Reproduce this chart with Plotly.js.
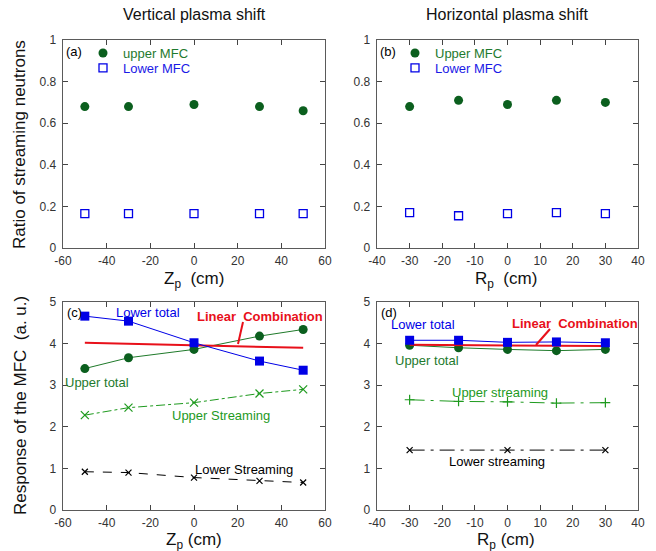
<!DOCTYPE html>
<html>
<head>
<meta charset="utf-8">
<script src="https://cdn.plot.ly/plotly-3.0.1.min.js"></script>
<style>html,body{margin:0;padding:0;background:#fff;}#chart{width:656px;height:551px;}</style>
</head>
<body>
<div id="chart"></div>
<script>
// ---- data ----
var zShift = [-50, -30, 0, 30, 50];
var ratioUpperA = [0.68, 0.68, 0.69, 0.68, 0.66];
var ratioLowerA = [0.165, 0.165, 0.165, 0.165, 0.165];

var rShift = [-30, -15, 0, 15, 30];
var ratioUpperB = [0.68, 0.71, 0.69, 0.71, 0.70];
var ratioLowerB = [0.17, 0.155, 0.165, 0.17, 0.165];

var lowerTotalC = [4.66, 4.54, 4.02, 3.58, 3.36];
var upperTotalC = [3.40, 3.66, 3.86, 4.18, 4.34];
var linCombCx = [-50, 50];
var linCombC = [4.02, 3.90];
var upperStreamC = [2.28, 2.46, 2.58, 2.80, 2.90];
var lowerStreamC = [0.92, 0.90, 0.78, 0.70, 0.66];

var lowerTotalD = [4.08, 4.08, 4.03, 4.04, 4.02];
var upperTotalD = [3.96, 3.90, 3.86, 3.83, 3.86];
var linCombDx = [-30, 30];
var linCombD = [3.97, 3.94];
var upperStreamD = [2.65, 2.61, 2.60, 2.57, 2.58];
var lowerStreamDx = [-30, 0, 30];
var lowerStreamD = [1.44, 1.44, 1.44];

// tick labels
var zTickVals = [-60, -40, -20, 0, 20, 40, 60];
var zTickText = ['-60', '-40', '-20', '0', '20', '40', '60'];
var rTickVals = [-40, -30, -20, -10, 0, 10, 20, 30, 40];
var rTickText = ['-40', '-30', '-20', '-10', '0', '10', '20', '30', '40'];
var ratioTickVals = [0, 0.2, 0.4, 0.6, 0.8, 1];
var ratioTickText = ['0', '0.2', '0.4', '0.6', '0.8', '1'];
var respTickVals = [0, 1, 2, 3, 4, 5];
var respTickText = ['0', '1', '2', '3', '4', '5'];

// ---- styling helpers ----
var W = 656, H = 551;
function px(x) { return x / W; }
function py(y) { return 1 - y / H; }
var FONT = 'Liberation Sans, Arial, Helvetica, sans-serif';
var GREEN_DARK = '#0b5f1e';
var GREEN = '#1e9a1e';
var BLUE = '#0000e6';
var RED = '#e8101a';

var traces = [
  // (a)
  {x: zShift, y: ratioUpperA, xaxis: 'x', yaxis: 'y', mode: 'markers', name: '<span style="color:#1e7a2e">upper MFC</span>',
   marker: {symbol: 'circle', size: 9, color: GREEN_DARK}, legend: 'legend'},
  {x: zShift, y: ratioLowerA, xaxis: 'x', yaxis: 'y', mode: 'markers', name: '<span style="color:#1a1ae6">Lower MFC</span>',
   marker: {symbol: 'square-open', size: 8, color: BLUE, line: {width: 1.3}}, legend: 'legend2'},
  // (b)
  {x: rShift, y: ratioUpperB, xaxis: 'x2', yaxis: 'y2', mode: 'markers', name: '<span style="color:#1e7a2e">Upper MFC</span>',
   marker: {symbol: 'circle', size: 9, color: GREEN_DARK}, legend: 'legend3'},
  {x: rShift, y: ratioLowerB, xaxis: 'x2', yaxis: 'y2', mode: 'markers', name: '<span style="color:#1a1ae6">Lower MFC</span>',
   marker: {symbol: 'square-open', size: 8, color: BLUE, line: {width: 1.3}}, legend: 'legend4'},
  // (c)
  {x: zShift, y: lowerStreamC, xaxis: 'x3', yaxis: 'y3', mode: 'lines+markers', showlegend: false,
   line: {color: '#000', width: 1, dash: 'dash'}, marker: {symbol: 'x-thin-open', size: 6, color: '#000', line: {width: 1.2, color: '#000'}}},
  {x: zShift, y: upperStreamC, xaxis: 'x3', yaxis: 'y3', mode: 'lines+markers', showlegend: false,
   line: {color: GREEN, width: 1, dash: 'dashdot'}, marker: {symbol: 'x-thin-open', size: 8, color: GREEN, line: {width: 1.2, color: GREEN}}},
  {x: zShift, y: upperTotalC, xaxis: 'x3', yaxis: 'y3', mode: 'lines+markers', showlegend: false,
   line: {color: '#1f7a2a', width: 1}, marker: {symbol: 'circle', size: 9, color: GREEN_DARK}},
  {x: linCombCx, y: linCombC, xaxis: 'x3', yaxis: 'y3', mode: 'lines', showlegend: false,
   line: {color: RED, width: 2}},
  {x: zShift, y: lowerTotalC, xaxis: 'x3', yaxis: 'y3', mode: 'lines+markers', showlegend: false,
   line: {color: BLUE, width: 1}, marker: {symbol: 'square', size: 9, color: BLUE}},
  // (d)
  {x: lowerStreamDx, y: lowerStreamD, xaxis: 'x4', yaxis: 'y4', mode: 'lines+markers', showlegend: false,
   line: {color: '#000', width: 1, dash: 'longdashdot'}, marker: {symbol: 'x-thin-open', size: 6, color: '#000', line: {width: 1.2, color: '#000'}}},
  {x: rShift, y: upperStreamD, xaxis: 'x4', yaxis: 'y4', mode: 'lines+markers', showlegend: false,
   line: {color: GREEN, width: 1, dash: 'longdashdot'}, marker: {symbol: 'cross-thin-open', size: 7, color: GREEN, line: {width: 1.2, color: GREEN}}},
  {x: rShift, y: upperTotalD, xaxis: 'x4', yaxis: 'y4', mode: 'lines+markers', showlegend: false,
   line: {color: '#1f7a2a', width: 1}, marker: {symbol: 'circle', size: 9, color: GREEN_DARK}},
  {x: linCombDx, y: linCombD, xaxis: 'x4', yaxis: 'y4', mode: 'lines', showlegend: false,
   line: {color: RED, width: 2}},
  {x: rShift, y: lowerTotalD, xaxis: 'x4', yaxis: 'y4', mode: 'lines+markers', showlegend: false,
   line: {color: BLUE, width: 1}, marker: {symbol: 'square', size: 9, color: BLUE}}
];

function axis(domain, range, vals, text, anchor, standoff) {
  return {
    domain: domain, range: range, tickmode: 'array', tickvals: vals, ticktext: text, anchor: anchor,
    showline: true, linecolor: '#5a5a5a', linewidth: 1.3, mirror: 'ticks',
    ticks: 'inside', ticklen: 5, tickwidth: 1, tickcolor: '#444',
    showgrid: false, zeroline: false, fixedrange: true, ticklabelstandoff: standoff,
    tickfont: {family: FONT, size: 12, color: '#333'}
  };
}

var xa = [px(63), px(325)], xb = [px(377), px(638)];
var yTop = [py(248), py(40)], yBot = [py(510), py(302)];

function legendAt(x, y) {
  return {x: px(x), y: py(y), xanchor: 'left', yanchor: 'middle', bgcolor: 'rgba(0,0,0,0)',
          borderwidth: 0, font: {family: FONT, size: 13}};
}

function ann(text, x, y, opts) {
  var a = {text: text, xref: 'paper', yref: 'paper', x: px(x), y: py(y), showarrow: false,
           xanchor: 'center', yanchor: 'middle', font: {family: FONT, size: 13, color: '#000'}};
  for (var k in (opts || {})) a[k] = opts[k];
  return a;
}

var TF = {family: FONT, size: 17, color: '#111'};
var annotations = [
  ann('Vertical plasma shift', 194, 14, {font: {family: FONT, size: 16, color: '#111'}}),
  ann('Horizontal plasma shift', 507, 14, {font: {family: FONT, size: 16, color: '#111'}}),
  ann('Ratio of streaming neutrons', 20, 145, {textangle: -90, font: TF}),
  ann('Response of the MFC  (a. u.)', 20, 406, {textangle: -90, font: TF}),
  ann('Z<sub>p</sub>  (cm)', 194, 280, {font: TF}),
  ann('R<sub>p</sub>  (cm)', 506, 280, {font: TF}),
  ann('Z<sub>p</sub> (cm)', 194, 541, {font: TF}),
  ann('R<sub>p</sub> (cm)', 506, 541, {font: TF}),
  ann('(a)', 74, 51),
  ann('(b)', 388, 51),
  ann('(c)', 74, 312),
  ann('(d)', 389, 312),
  ann('Lower total', 148, 312, {font: {family: FONT, size: 13, color: BLUE}}),
  ann('<b>Linear  Combination</b>', 260, 316, {font: {family: FONT, size: 13, color: RED}}),
  ann('Upper total', 97, 382, {font: {family: FONT, size: 13, color: '#1e7a2e'}}),
  ann('Upper Streaming', 221, 415, {font: {family: FONT, size: 13, color: GREEN}}),
  ann('Lower Streaming', 244, 469, {font: {family: FONT, size: 13, color: '#000'}}),
  ann('Lower total', 423, 324, {font: {family: FONT, size: 13, color: BLUE}}),
  ann('<b>Linear  Combination</b>', 575, 323, {font: {family: FONT, size: 13, color: RED}}),
  ann('Upper total', 427, 360, {font: {family: FONT, size: 13, color: '#1e7a2e'}}),
  ann('Upper streaming', 500, 392, {font: {family: FONT, size: 13, color: GREEN}}),
  ann('Lower streaming', 497, 461, {font: {family: FONT, size: 13, color: '#000'}})
];

var shapes = [
  {type: 'line', xref: 'paper', yref: 'paper', x0: px(243), y0: py(322), x1: px(238), y1: py(344), line: {color: RED, width: 2}},
  {type: 'line', xref: 'paper', yref: 'paper', x0: px(550), y0: py(329), x1: px(536), y1: py(345), line: {color: RED, width: 2}}
];

var layout = {
  width: W, height: H,
  margin: {l: 0, r: 0, t: 0, b: 0},
  paper_bgcolor: '#fff', plot_bgcolor: 'rgba(0,0,0,0)',
  font: {family: FONT},
  xaxis: axis(xa, [-60, 60], zTickVals, zTickText, 'y', 1),
  yaxis: axis(yTop, [0, 1], ratioTickVals, ratioTickText, 'x', 3),
  xaxis2: axis(xb, [-40, 40], rTickVals, rTickText, 'y2', 1),
  yaxis2: axis(yTop, [0, 1], ratioTickVals, ratioTickText, 'x2', 3),
  xaxis3: axis(xa, [-60, 60], zTickVals, zTickText, 'y3', 1),
  yaxis3: axis(yBot, [0, 5], respTickVals, respTickText, 'x3', 3),
  xaxis4: axis(xb, [-40, 40], rTickVals, rTickText, 'y4', 1),
  yaxis4: axis(yBot, [0, 5], respTickVals, respTickText, 'x4', 3),
  legend: legendAt(83, 53),
  legend2: legendAt(83, 68),
  legend3: legendAt(395, 53),
  legend4: legendAt(395, 68),
  annotations: annotations,
  shapes: shapes,
  showlegend: true
};

Plotly.newPlot('chart', traces, layout, {displayModeBar: false, staticPlot: true});
</script>
</body>
</html>
